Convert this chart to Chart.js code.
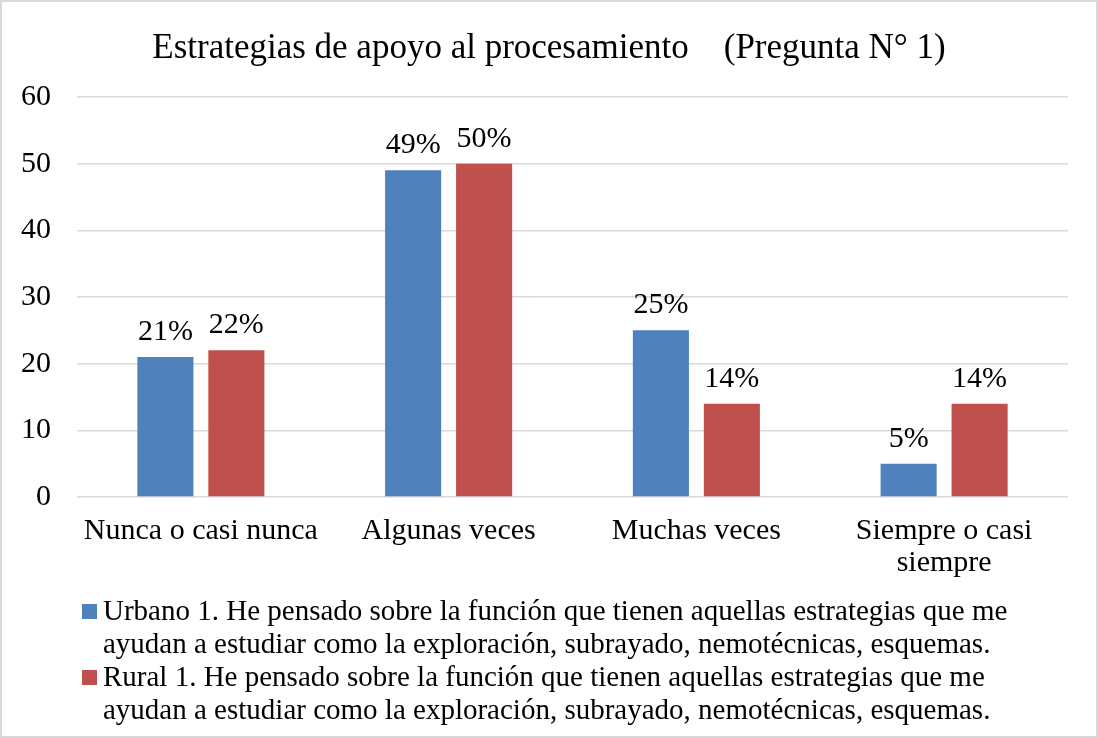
<!DOCTYPE html>
<html lang="es">
<head>
    <meta charset="UTF-8">
    <title>Estrategias de apoyo al procesamiento</title>
    <script src="https://cdn.jsdelivr.net/npm/chart.js"></script>
    <style>
        body {
            margin: 0;
            background: #ffffff;
            font-family: 'Liberation Serif', 'Times New Roman', serif;
        }

        #frame {
            position: relative;
            width: 1098px;
            height: 738px;
            box-sizing: border-box;
            border: 2px solid #d9d9d9;
            background: #fff;
        }

        #chart-box {
            position: absolute;
            left: 0;
            top: 0;
            width: 1094px;
            height: 600px;
        }

        #titulo {
            position: absolute;
            left: 0;
            top: 24px;
            width: 1094px;
            text-align: center;
            font-size: 35px;
            line-height: 42px;
            color: #000;
            white-space: pre;
        }

        #legend {
            position: absolute;
            left: 80px;
            top: 592px;
            width: 1000px;
            font-size: 29px;
            line-height: 33px;
            color: #000;
            white-space: nowrap;
        }

        .leg-item {
            position: relative;
            padding-left: 21px;
        }

        .leg-box {
            position: absolute;
            left: 0;
            top: 10px;
            width: 15px;
            height: 15px;
        }
    </style>
</head>
<body>
    <div id="frame">
        <div id="chart-box">
            <canvas id="barChart"></canvas>
        </div>
        <div id="titulo"></div>
        <div id="legend"></div>
    </div>

    <script>
        // datos
        const titulo = 'Estrategias de apoyo al procesamiento    (Pregunta N° 1)';
        const categorias = ['Nunca o casi nunca', 'Algunas veces', 'Muchas veces', ['Siempre o casi', 'siempre']];
        const urbano = [21, 49, 25, 5];
        const rural = [22, 50, 14, 14];
        const nombreUrbano = ['Urbano 1. He pensado sobre la función que tienen aquellas estrategias que me', 'ayudan a estudiar como la exploración, subrayado, nemotécnicas, esquemas.'];
        const nombreRural = ['Rural 1. He pensado sobre la función que tienen aquellas estrategias que me', 'ayudan a estudiar como la exploración, subrayado, nemotécnicas, esquemas.'];
        const ticksY = [0, 10, 20, 30, 40, 50, 60];

        const azul = '#4f81bd';
        const rojo = '#c0504d';
        const fuente = "'Liberation Serif', 'Times New Roman', serif";

        // etiquetas de porcentaje encima de cada barra
        const etiquetasPlugin = {
            id: 'etiquetas',
            afterDatasetsDraw(chart) {
                const ctx = chart.ctx;
                ctx.save();
                ctx.font = '30px ' + fuente;
                ctx.fillStyle = '#000';
                ctx.textAlign = 'center';
                ctx.textBaseline = 'bottom';
                chart.data.datasets.forEach((ds, i) => {
                    chart.getDatasetMeta(i).data.forEach((bar, j) => {
                        ctx.fillText(ds.data[j] + '%', bar.x, bar.y - 10);
                    });
                });
                ctx.restore();
            }
        };

        const chart = new Chart(document.getElementById('barChart'), {
            type: 'bar',
            data: {
                labels: categorias,
                datasets: [
                    { label: nombreUrbano, data: urbano, backgroundColor: azul },
                    { label: nombreRural, data: rural, backgroundColor: rojo }
                ]
            },
            options: {
                responsive: true,
                maintainAspectRatio: false,
                animation: false,
                categoryPercentage: 0.573,
                barPercentage: 0.79,
                layout: { padding: { left: 0, right: 28, top: 95, bottom: 0 } },
                plugins: {
                    legend: { display: false },
                    tooltip: { enabled: false }
                },
                scales: {
                    x: {
                        grid: { display: false },
                        border: { display: false },
                        ticks: {
                            color: '#000',
                            font: { family: fuente, size: 30, lineHeight: 1.08 },
                            maxRotation: 0,
                            autoSkip: false,
                            padding: 10
                        },
                        afterFit(scale) { scale.height = 105; }
                    },
                    y: {
                        min: 0,
                        max: 60,
                        afterBuildTicks(scale) {
                            scale.ticks = ticksY.map(v => ({ value: v }));
                        },
                        grid: { color: '#d9d9d9', lineWidth: 1.5, drawTicks: false },
                        border: { display: false },
                        ticks: {
                            color: '#000',
                            font: { family: fuente, size: 30 },
                            padding: 26
                        },
                        afterFit(scale) { scale.width = 75; }
                    }
                }
            },
            plugins: [etiquetasPlugin]
        });

        document.getElementById('titulo').textContent = titulo;

        // leyenda en HTML (cada texto en dos líneas, como en el original)
        const leyenda = document.getElementById('legend');
        chart.data.datasets.forEach(ds => {
            const item = document.createElement('div');
            item.className = 'leg-item';
            item.innerHTML = '<span class="leg-box" style="background:' + ds.backgroundColor + '"></span>' + ds.label.join('<br>');
            leyenda.appendChild(item);
        });
    </script>
</body>
</html>
